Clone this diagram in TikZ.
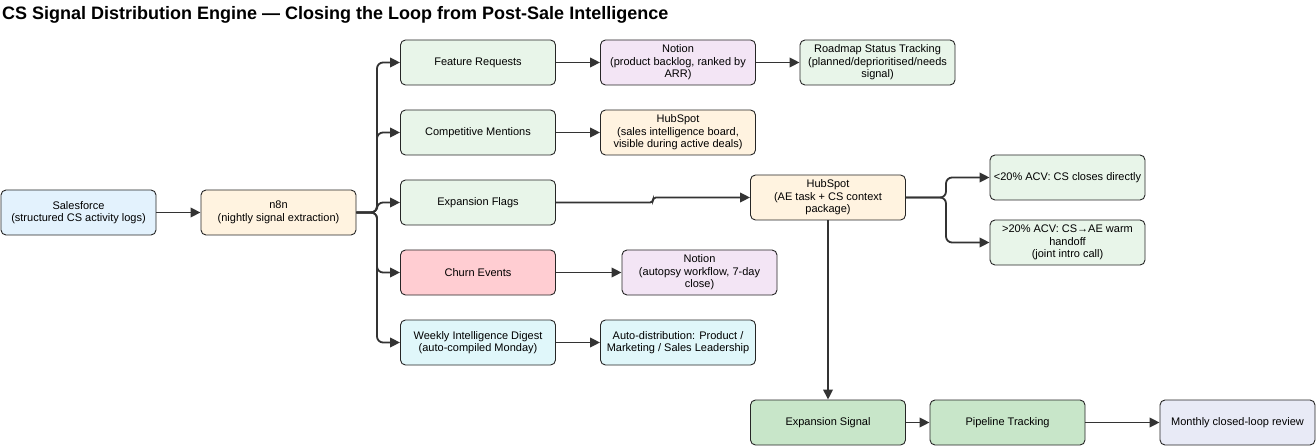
\documentclass[tikz,border=0pt]{standalone}
\usepackage{fontspec}
\setmainfont{Liberation Sans}
\usetikzlibrary{arrows.meta}
\definecolor{cBlue}{HTML}{E3F2FD}
\definecolor{cOrange}{HTML}{FFF3E0}
\definecolor{cGreen}{HTML}{E8F5E9}
\definecolor{cPurple}{HTML}{F3E5F5}
\definecolor{cRed}{HTML}{FFCDD2}
\definecolor{cCyan}{HTML}{E0F7FA}
\definecolor{cGreenD}{HTML}{C8E6C9}
\definecolor{cIndigo}{HTML}{E8EAF6}
\definecolor{cLine}{HTML}{333333}
\tikzset{
  box/.style={draw=black!85, line width=0.9pt, rounded corners=5pt,
    minimum width=155pt, minimum height=45pt, inner sep=0pt, align=center,
    font=\fontsize{11}{12.5}\selectfont},
  conn/.style={draw=cLine, line width=1.8pt, -{Triangle[length=10pt,width=9.5pt]},
    rounded corners=6pt}
}
\begin{document}
\begin{tikzpicture}[x=1pt,y=-1pt]
\useasboundingbox (0,0) rectangle (1316,446);
\fill[white] (0,0) rectangle (1316,446);
\node[anchor=west, font=\bfseries\fontsize{18}{20}\selectfont, inner sep=0pt] (title) at (2,15) {CS Signal Distribution Engine — Closing the Loop from Post-Sale Intelligence};

\node[box, fill=cBlue] (sf) at (78.5,212.5) {Salesforce\\(structured CS activity logs)};
\node[box, fill=cOrange] (n8n) at (278.5,212.5) {n8n\\(nightly signal extraction)};

\node[box, fill=cGreen] (fr) at (478,62.5) {Feature Requests};
\node[box, fill=cGreen] (cm) at (478,132.5) {Competitive Mentions};
\node[box, fill=cGreen] (ef) at (478,202.5) {Expansion Flags};
\node[box, fill=cRed] (ce) at (478,272.5) {Churn Events};
\node[box, fill=cCyan] (wd) at (478,342.5) {Weekly Intelligence Digest\\(auto-compiled Monday)};

\node[box, fill=cPurple] (no1) at (678,62.5) {Notion\\(product backlog, ranked by\\ARR)};
\node[box, fill=cGreen] (rm) at (877.5,62.5) {Roadmap Status Tracking\\(planned/deprioritised/needs\\signal)};
\node[box, fill=cOrange] (hs1) at (678,132.5) {HubSpot\\(sales intelligence board,\\visible during active deals)};
\node[box, fill=cOrange] (hs2) at (828,197.5) {HubSpot\\(AE task + CS context\\package)};
\node[box, fill=cPurple] (no2) at (699.5,272.5) {Notion\\(autopsy workflow, 7-day\\close)};
\node[box, fill=cCyan] (ad) at (678,342.5) {Auto-distribution: Product /\\Marketing / Sales Leadership};

\node[box, fill=cGreen] (lo) at (1067.5,177.5) {<20\% ACV: CS closes directly};
\node[box, fill=cGreen] (hi) at (1067.5,242.5) {>20\% ACV: CS→AE warm\\handoff\\(joint intro call)};

\node[box, fill=cGreenD] (es) at (828,422.5) {Expansion Signal};
\node[box, fill=cGreenD] (pt) at (1007.5,422.5) {Pipeline Tracking};
\node[box, fill=cIndigo] (mc) at (1237.5,422.5) {Monthly closed-loop review};

\draw[conn] (sf) -- (n8n);
\foreach \t in {fr,cm,ef,ce,wd}{
  \draw[conn] (n8n.east) -- (377,212.5) |- (\t.west);
}
\draw[conn] (fr) -- (no1);
\draw[conn] (no1) -- (rm);
\draw[conn] (cm) -- (hs1);
\draw[conn, rounded corners=3pt] (ef.east) -- (653,202.5) -- (653,197.5) -- (hs2.west);
\draw[conn] (ce.east) -- (ce.east -| no2.west);
\draw[conn] (wd) -- (ad);
\draw[conn] (hs2.east) -- (946,197.5) |- (lo.west);
\draw[conn] (hs2.east) -- (946,197.5) |- (hi.west);
\draw[conn] (hs2.south) -- (es.north);
\draw[conn] (es) -- (pt);
\draw[conn] (pt) -- (mc);
\end{tikzpicture}
\end{document}
